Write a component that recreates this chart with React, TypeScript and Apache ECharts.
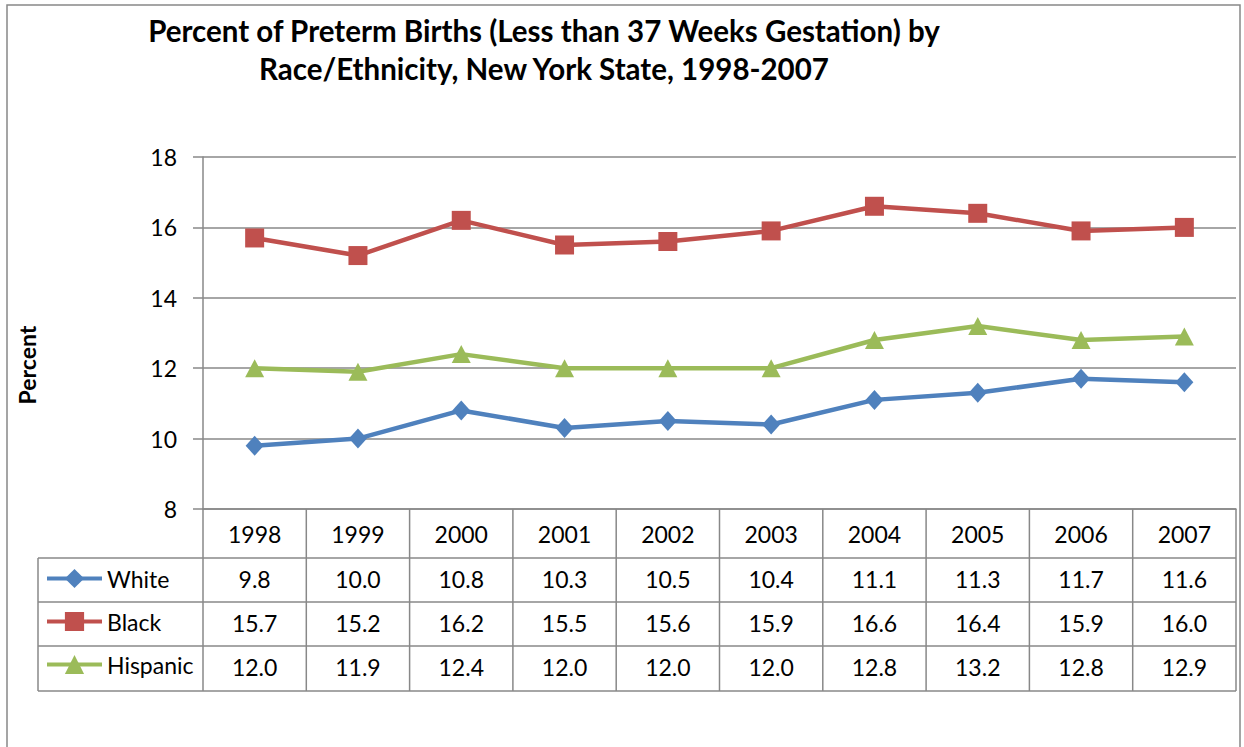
import React, { useEffect, useRef } from "react";
import * as echarts from "echarts";

const years = ["1998", "1999", "2000", "2001", "2002", "2003", "2004", "2005", "2006", "2007"];
const white = [9.8, 10.0, 10.8, 10.3, 10.5, 10.4, 11.1, 11.3, 11.7, 11.6];
const black = [15.7, 15.2, 16.2, 15.5, 15.6, 15.9, 16.6, 16.4, 15.9, 16.0];
const hispanic = [12.0, 11.9, 12.4, 12.0, 12.0, 12.0, 12.8, 13.2, 12.8, 12.9];
const seriesNames = ["White", "Black", "Hispanic"];
const yMin = 8;
const yMax = 18;
const yStep = 2;
const yTitle = "Percent";
const titleLines = [
  "Percent of Preterm Births (Less than 37 Weeks Gestation) by",
  "Race/Ethnicity, New York State, 1998-2007",
];

const FONT = "Lato, 'Open Sans', sans-serif";
const GRID_L = 203;
const GRID_R = 1236;
const GRID_T = 157;
const GRID_B = 509;
const ROW_Y = [509, 558, 602, 646, 691];
const TABLE_L = 38;
const LINE = "#888888";

export default function App() {
  const ref = useRef<HTMLDivElement>(null);
  useEffect(() => {
    document.body.style.margin = "0";
    if (!ref.current) return;
    const chart = echarts.init(ref.current, undefined, { renderer: "svg" });
    const n = years.length;
    const cw = (GRID_R - GRID_L) / n;
    const lines: any[] = [];
    for (let i = 0; i <= n; i++) {
      const x = GRID_L + i * cw;
      lines.push({ type: "line", shape: { x1: x, y1: ROW_Y[0], x2: x, y2: ROW_Y[4] }, style: { stroke: LINE, lineWidth: 1.5 } });
    }
    lines.push({ type: "line", shape: { x1: TABLE_L, y1: ROW_Y[1], x2: TABLE_L, y2: ROW_Y[4] }, style: { stroke: LINE, lineWidth: 1.5 } });
    for (let r = 1; r < ROW_Y.length; r++) {
      lines.push({ type: "line", shape: { x1: TABLE_L, y1: ROW_Y[r], x2: GRID_R, y2: ROW_Y[r] }, style: { stroke: LINE, lineWidth: 1.5 } });
    }
    const rows = [white, black, hispanic];
    const offsets = [47, 91, 135];
    const extraX = rows.map((vals, k) => ({
      type: "category",
      gridIndex: 0,
      position: "bottom",
      offset: offsets[k],
      data: vals.map((v) => v.toFixed(1)),
      axisLine: { show: false },
      axisTick: { show: false },
      axisLabel: { margin: 11, fontSize: 23, color: "#000", fontFamily: FONT },
    }));
    const colors = ["#4F81BD", "#C0504D", "#9BBB59"];
    const symbols = ["diamond", "rect", "triangle"];
    const sizes = [[18, 20], 19, [19, 18]];
    chart.setOption({
      animation: false,
      textStyle: { fontFamily: FONT },
      grid: { left: GRID_L, top: GRID_T, width: GRID_R - GRID_L, height: GRID_B - GRID_T },
      legend: {
        orient: "vertical",
        left: 45,
        top: 567,
        padding: 0,
        itemWidth: 55,
        itemHeight: 24,
        itemGap: 20,
        data: seriesNames,
        lineStyle: { width: 4 },
        textStyle: { fontSize: 23, color: "#000", fontFamily: FONT, padding: [0, 0, 2, 0] },
      },
      xAxis: [
        {
          type: "category",
          data: years,
          boundaryGap: true,
          axisLine: { show: true, lineStyle: { color: LINE, width: 1.5 } },
          axisTick: { show: false },
          axisLabel: { margin: 13, fontSize: 23, color: "#000", fontFamily: FONT },
        },
        ...extraX,
      ],
      yAxis: {
        type: "value",
        min: yMin,
        max: yMax,
        interval: yStep,
        axisLine: { show: true, lineStyle: { color: LINE, width: 1.5 } },
        axisTick: { show: true, length: 10, lineStyle: { color: LINE, width: 1.5 } },
        splitLine: { show: true, lineStyle: { color: LINE, width: 1.5 } },
        axisLabel: { margin: 26, fontSize: 23, color: "#000", fontFamily: FONT },
      },
      series: rows.map((vals, k) => ({
        name: seriesNames[k],
        type: "line",
        xAxisIndex: 0,
        data: vals,
        symbol: symbols[k],
        symbolSize: sizes[k],
        lineStyle: { color: colors[k], width: 4.5 },
        itemStyle: { color: colors[k] },
      })),
      graphic: [
        { type: "rect", shape: { x: 7, y: 5, width: 1233, height: 780 }, style: { fill: "none", stroke: LINE, lineWidth: 1.5 }, silent: true },
        ...titleLines.map((t, i) => ({
          type: "text",
          x: 544,
          y: 30 + i * 38,
          style: { text: t, fontSize: 29.5, fontWeight: "bold", fill: "#000", align: "center", verticalAlign: "middle", fontFamily: FONT },
        })),
        {
          type: "text",
          x: 27,
          y: 365,
          rotation: Math.PI / 2,
          style: { text: yTitle, fontSize: 23, fontWeight: "bold", fill: "#000", align: "center", verticalAlign: "middle", fontFamily: FONT },
        },
        ...lines,
      ],
    });
    return () => chart.dispose();
  }, []);
  return <div ref={ref} style={{ width: 1244, height: 747 }} />;
}
